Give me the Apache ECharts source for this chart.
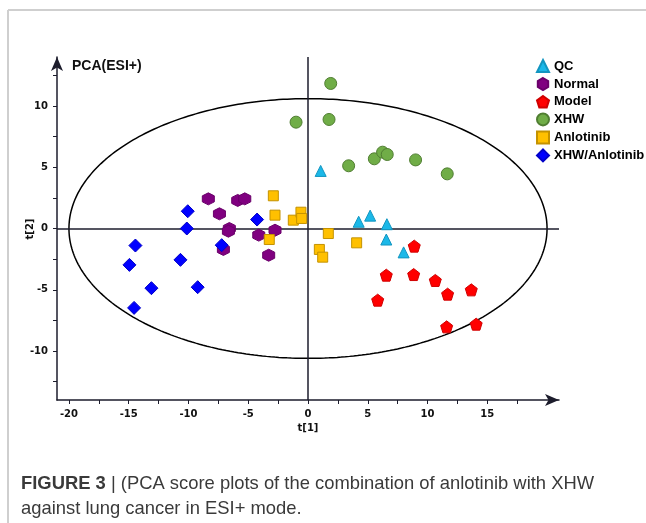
<!DOCTYPE html>
<html><head><meta charset="utf-8">
<script src="https://cdn.jsdelivr.net/npm/echarts@6/dist/echarts.min.js"></script>
<style>html,body{margin:0;padding:0;background:#fff}#c{width:646px;height:523px}</style>
</head><body><div id="c"></div>
<script>
// ---- data ----
var seriesNames = ['QC','Normal','Model','XHW','Anlotinib','XHW/Anlotinib'];
var qc = [[1.06,4.7],[4.24,0.55],[5.2,1.05],[6.6,0.35],[6.55,-0.9],[8.0,-1.95]];
var normal = [[-8.34,2.42],[-7.41,1.2],[-5.88,2.29],[-5.29,2.42],[-6.58,0.0],[-6.66,-0.22],[-4.12,-0.54],[-2.76,-0.14],[-7.08,-1.71],[-3.29,-2.18]];
var model = [[8.89,-1.44],[6.55,-3.81],[8.84,-3.76],[10.65,-4.24],[11.68,-5.36],[13.66,-5.01],[5.83,-5.85],[11.6,-8.03],[14.07,-7.81]];
var xhw = [[-1.0,8.68],[1.9,11.84],[1.76,8.9],[3.4,5.12],[5.55,5.69],[6.24,6.23],[6.63,6.04],[9.0,5.6],[11.65,4.46]];
var anlotinib = [[-2.9,2.67],[-2.76,1.09],[-1.23,0.68],[-0.59,1.33],[-0.53,0.82],[-3.24,-0.9],[1.7,-0.41],[0.95,-1.71],[1.23,-2.34],[4.07,-1.17]];
var combo = [[-10.06,1.41],[-10.14,0.0],[-4.26,0.73],[-14.44,-1.39],[-14.94,-2.97],[-10.67,-2.56],[-7.22,-1.36],[-13.1,-4.87],[-9.23,-4.79],[-14.55,-6.48]];
var xTickLabels = [-20,-15,-10,-5,0,5,10,15];
var xTicks = [-20,-17.5,-15,-12.5,-10,-7.5,-5,-2.5,0,2.5,5,7.5,10,12.5,15,17.5];
var yTickLabels = [-10,-5,0,5,10];
var yTicks = [-12.5,-10,-7.5,-5,-2.5,0,2.5,5,7.5,10,12.5];
// Hotelling T2 ellipse semi-axes
var ellipseA = 20, ellipseB = 10.6;

var ellipse = [];
for (var i = 0; i <= 360; i++) {
  var t = i * Math.PI / 180;
  ellipse.push([ellipseA * Math.cos(t), ellipseB * Math.sin(t)]);
}

var hexPath = 'path://M0,-1L0.866,-0.5L0.866,0.5L0,1L-0.866,0.5L-0.866,-0.5Z';
var pentPath = 'path://M0,-1L0.951,-0.309L0.588,0.809L-0.588,0.809L-0.951,-0.309Z';

var axisColor = '#1c1c2c';
var chart = echarts.init(document.getElementById('c'));
function sc(name, data, symbol, size, color, border) {
  return {name: name, type: 'scatter', data: data, symbol: symbol, symbolSize: size,
    itemStyle: {color: color, borderColor: border, borderWidth: 1, opacity: 1}, z: 5};
}
chart.setOption({
  animation: false,
  backgroundColor: '#fff',
  grid: {left: 57, top: 57, width: 502, height: 343, containLabel: false},
  xAxis: {type: 'value', min: -21, max: 21, splitLine: {show: false},
    axisLine: {onZero: false, lineStyle: {color: axisColor, width: 1.5}, symbol: ['none','arrow'], symbolSize: [9, 14]},
    axisTick: {show: true, inside: false, length: 4, lineStyle: {color: axisColor}, customValues: xTicks},
    axisLabel: {customValues: xTickLabels, fontWeight: 'bold', fontSize: 10, color: '#111', margin: 9, fontFamily: 'DejaVu Sans'}
  },
  yAxis: {type: 'value', min: -14, max: 14, splitLine: {show: false},
    axisLine: {onZero: false, lineStyle: {color: axisColor, width: 1.5}, symbol: ['none','arrow'], symbolSize: [9, 14]},
    axisTick: {show: true, inside: false, length: 4, lineStyle: {color: axisColor}, customValues: yTicks},
    axisLabel: {customValues: yTickLabels, fontWeight: 'bold', fontSize: 10, color: '#111', margin: 9, fontFamily: 'DejaVu Sans'}
  },
  legend: {orient: 'vertical', left: 536, top: 59, padding: 0, itemWidth: 12, itemHeight: 12, itemGap: 4,
    data: seriesNames,
    textStyle: {fontWeight: 'bold', fontSize: 13, color: '#000', fontFamily: 'Liberation Sans'}},
  series: [
    {type: 'line', data: ellipse, showSymbol: false, symbol: 'none', silent: true, smooth: false,
      lineStyle: {color: '#000', width: 1.5}, z: 2,
      markLine: {silent: true, symbol: 'none', label: {show: false},
        lineStyle: {color: axisColor, width: 1.5, type: 'solid'},
        data: [{xAxis: 0}, {yAxis: 0}]}},
    sc('QC', qc, 'triangle', 11, '#1BB8E8', '#1295C0'),
    sc('Normal', normal, hexPath, 12, '#800080', '#6A006A'),
    sc('Model', model, pentPath, 12, '#FF0000', '#D00000'),
    sc('XHW', xhw, 'circle', 12, '#70AD47', '#507E32'),
    sc('Anlotinib', anlotinib, 'rect', 10, '#FFC000', '#C49200'),
    sc('XHW/Anlotinib', combo, 'diamond', 13, '#0000FF', '#0000C8')
  ],
  graphic: [
    {type: 'line', shape: {x1: 8, y1: 10, x2: 646, y2: 10}, style: {stroke: '#cfcfcf', lineWidth: 2}},
    {type: 'line', shape: {x1: 8, y1: 10, x2: 8, y2: 523}, style: {stroke: '#cfcfcf', lineWidth: 2}},
    {type: 'text', left: 72, top: 59, style: {text: 'PCA(ESI+)', font: 'bold 14px "Liberation Sans"', fill: '#111'}},
    {type: 'text', x: 30, y: 229, rotation: Math.PI / 2, style: {text: 't[2]', font: 'bold 10px "DejaVu Sans"', fill: '#111', align: 'center', verticalAlign: 'middle'}},
    {type: 'text', x: 308, y: 428, style: {text: 't[1]', font: 'bold 10px "DejaVu Sans"', fill: '#111', align: 'center', verticalAlign: 'middle'}},
    {type: 'text', left: 21, top: 472, style: {
      text: '{b|FIGURE 3} | (PCA score plots of the combination of anlotinib with XHW\nagainst lung cancer in ESI+ mode.',
      font: '18.4px "Liberation Sans"', fill: '#3a3a3a', lineHeight: 24.5,
      rich: {b: {font: 'bold 18.4px "Liberation Sans"', fill: '#3a3a3a', lineHeight: 24.5}}}}
  ]
});
</script></body></html>
